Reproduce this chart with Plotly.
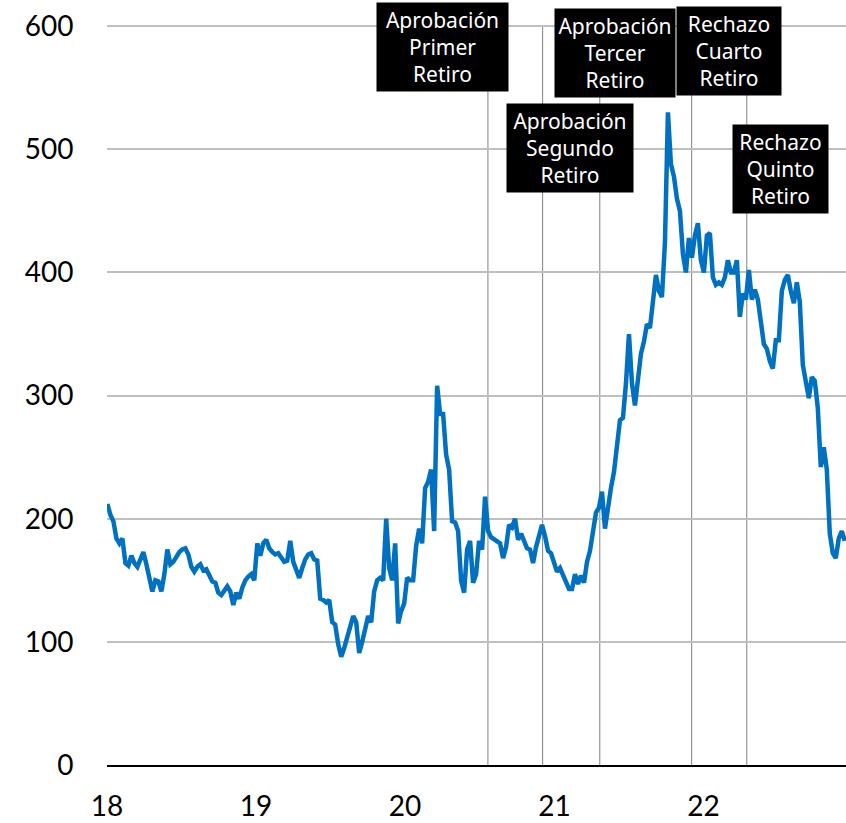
import pandas as pd
import plotly.graph_objects as go

# serie (aprox. semanal), ene-2018 a dic-2022
valores = [
    212, 203, 198, 184, 180, 184, 164, 162, 170, 164, 161, 167, 173, 163, 153, 141, 150, 149, 141, 155,
    175, 163, 165, 169, 173, 175, 176, 171, 161, 157, 161, 163, 158, 159, 154, 149, 148, 140, 138, 141,
    145, 141, 130, 140, 135, 144, 150, 153, 155, 150, 180, 170, 180, 183, 176, 173, 171, 172, 168, 165,
    166, 182, 165, 157, 152, 160, 167, 171, 172, 167, 166, 135, 134, 132, 134, 116, 114, 98, 88, 95,
    104, 112, 121, 116, 91, 100, 110, 121, 116, 141, 150, 152, 150, 200, 160, 150, 180, 115, 125, 131,
    152, 150, 150, 178, 192, 180, 225, 230, 240, 190, 308, 285, 285, 252, 240, 198, 197, 190, 150, 140,
    175, 182, 148, 155, 182, 175, 218, 190, 185, 183, 181, 180, 168, 177, 195, 193, 200, 183, 188, 182,
    176, 175, 164, 177, 185, 195, 186, 174, 172, 164, 157, 160, 155, 150, 143, 143, 155, 147, 154, 148,
    165, 174, 190, 205, 209, 222, 192, 210, 225, 238, 262, 280, 282, 310, 350, 310, 292, 312, 334, 344,
    358, 355, 380, 398, 385, 380, 424, 530, 488, 478, 460, 450, 415, 400, 428, 412, 430, 440, 410, 400,
    430, 432, 396, 390, 392, 390, 396, 410, 400, 400, 410, 364, 383, 378, 402, 378, 386, 378, 360, 342,
    338, 328, 322, 345, 345, 385, 394, 398, 385, 375, 392, 376, 325, 312, 298, 315, 312, 290, 242, 258,
    240, 188, 172, 168, 184, 190, 182,
]
fechas = pd.date_range("2018-01-02", "2022-12-13", periods=len(valores))

eventos = ["2020-07-22", "2020-12-03", "2021-04-22", "2021-12-03", "2022-04-17"]
etiquetas = [
    "Aprobación<br>Primer<br>Retiro",
    "Aprobación<br>Segundo<br>Retiro",
    "Aprobación<br>Tercer<br>Retiro",
    "Rechazo<br>Cuarto<br>Retiro",
    "Rechazo<br>Quinto<br>Retiro",
]
etiqueta_x = ["2020-04-01", "2021-02-09", "2021-05-29", "2022-03-05", "2022-07-09"]
etiqueta_y = [583, 501, 578, 580, 484]
ancho_caja = [127, 122, 116, 100, 91]

fig = go.Figure()
fig.add_trace(go.Scatter(
    x=fechas, y=valores, mode="lines",
    line=dict(color="#0070C0", width=4.5),
    showlegend=False,
))

for f in eventos:
    fig.add_shape(type="line", x0=f, x1=f, y0=0, y1=600, xref="x", yref="y",
                  line=dict(color="#808080", width=1), layer="below")

for txt, ex, ey, w in zip(etiquetas, etiqueta_x, etiqueta_y, ancho_caja):
    fig.add_annotation(x=ex, y=ey, text=txt, showarrow=False,
                       bgcolor="black", borderpad=2, width=w, height=84,
                       font=dict(family="Noto Sans", size=21, color="white"))

fig.update_layout(
    width=846, height=823,
    margin=dict(l=107, r=0, t=25, b=58),
    plot_bgcolor="white", paper_bgcolor="white",
    font=dict(family="Lato", size=28, color="black"),
    xaxis=dict(
        type="date", range=["2018-01-01", "2022-12-16"],
        tick0="2018-01-01", dtick="M12", tickformat="%y",
        showgrid=False, showline=True, linecolor="black", linewidth=2,
        ticks="outside", ticklen=15, tickcolor="rgba(0,0,0,0)",
        tickfont=dict(family="Lato", size=28, color="black"),
        automargin=False,
    ),
    yaxis=dict(
        range=[0, 601], tickvals=[0, 100, 200, 300, 400, 500, 600],
        showgrid=True, gridcolor="#BFBFBF", gridwidth=1.5,
        zeroline=False, showline=False,
        ticks="outside", ticklen=27, tickcolor="rgba(0,0,0,0)",
        tickfont=dict(family="Lato", size=28, color="black"),
        automargin=False,
    ),
)

fig.write_html("out.html", config={"displayModeBar": False},
               post_script="document.body.style.margin='0';")
